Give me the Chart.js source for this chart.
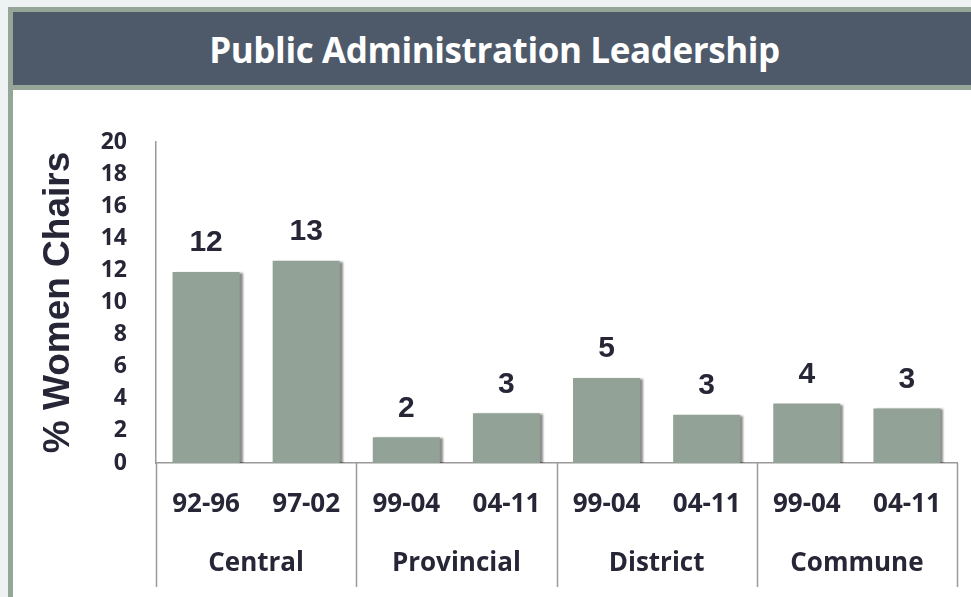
<!DOCTYPE html>
<html>
<head>
<meta charset="utf-8">
<title>Public Administration Leadership</title>
<script src="https://cdn.jsdelivr.net/npm/chart.js@4.4.1/dist/chart.umd.min.js"></script>
<style>
    html, body {
        margin: 0;
        padding: 0;
        width: 971px;
        height: 597px;
        overflow: hidden;
        background: #eef2f2;
    }
    .frame {
        position: absolute;
        left: 8px;
        top: 7px;
        width: 963px;
        height: 590px;
        border-left: 5px solid #95a598;
        border-top: 5px solid #95a598;
        background: #ffffff;
    }
    .frame-title {
        height: 73px;
        line-height: 76px;
        background: #4e5a6a;
        border-bottom: 5px solid #95a598;
        color: #ffffff;
        font-family: "Open Sans", sans-serif;
        font-weight: 700;
        font-size: 35px;
        text-align: center;
        letter-spacing: -0.4px;
    }
    .chart-box {
        position: absolute;
        left: 0;
        top: 78px;
    }
</style>
</head>
<body>
<div class="frame">
    <div class="frame-title">Public Administration Leadership</div>
    <div class="chart-box"><canvas id="chart" width="958" height="507"></canvas></div>
</div>
<script>
(function () {
    'use strict';

    // values (bar heights); labels above bars are rounded
    var PERIODS = ['92-96', '97-02', '99-04', '04-11', '99-04', '04-11', '99-04', '04-11'];
    var GROUPS = ['Central', 'Provincial', 'District', 'Commune'];
    var WOMEN_CHAIRS = [11.9, 12.6, 1.6, 3.1, 5.3, 3.0, 3.7, 3.4];
    var Y_MIN = 0;
    var Y_MAX = 20;
    var Y_STEP = 2;

    var TEXT_DARK = '#262637';
    var AXIS_GREY = '#9a9a9a';

    var barShadow = {
        id: 'barShadow',
        beforeDatasetsDraw: function (chart) {
            var ctx = chart.ctx;
            ctx.save();
            ctx.shadowColor = 'rgba(0, 0, 0, 0.45)';
            ctx.shadowOffsetX = 3;
            ctx.shadowOffsetY = 1;
            ctx.shadowBlur = 2;
        },
        afterDatasetsDraw: function (chart) {
            chart.ctx.restore();
        }
    };

    var valueLabels = {
        id: 'valueLabels',
        afterDatasetsDraw: function (chart) {
            var ctx = chart.ctx;
            var meta = chart.getDatasetMeta(0);
            ctx.save();
            ctx.fillStyle = TEXT_DARK;
            ctx.font = 'bold 30px "Liberation Sans", Arial, sans-serif';
            ctx.textAlign = 'center';
            ctx.textBaseline = 'middle';
            for (var i = 0; i < meta.data.length; i++) {
                var bar = meta.data[i];
                ctx.fillText(String(Math.round(WOMEN_CHAIRS[i])), bar.x, bar.y - 29);
            }
            ctx.restore();
        }
    };

    // vertical dividers between the groups, running under both label rows
    var groupDividers = {
        id: 'groupDividers',
        afterDraw: function (chart) {
            var ctx = chart.ctx;
            var g = chart.scales.x2;
            var top = chart.chartArea.bottom;
            var bottom = g.bottom - 10;
            ctx.save();
            ctx.strokeStyle = AXIS_GREY;
            ctx.lineWidth = 1.5;
            for (var i = 0; i <= GROUPS.length; i++) {
                var x = Math.round(g.getPixelForValue(i - 0.5)) + 0.5;
                ctx.beginPath();
                ctx.moveTo(x, top);
                ctx.lineTo(x, bottom);
                ctx.stroke();
            }
            ctx.restore();
        }
    };

    var canvas = document.getElementById('chart');

    new Chart(canvas, {
        type: 'bar',
        data: {
            labels: PERIODS,
            datasets: [{
                label: '% Women Chairs',
                data: WOMEN_CHAIRS,
                backgroundColor: '#93a297',
                borderWidth: 0,
                barPercentage: 0.67,
                categoryPercentage: 1
            }]
        },
        options: {
            responsive: false,
            animation: false,
            layout: {
                padding: { top: 52, right: 14, bottom: 0, left: 0 }
            },
            plugins: {
                legend: { display: false },
                tooltip: { enabled: false }
            },
            scales: {
                x: {
                    type: 'category',
                    position: 'bottom',
                    grid: { display: false, drawTicks: false },
                    border: { display: true, color: AXIS_GREY, width: 1.5 },
                    ticks: {
                        color: TEXT_DARK,
                        padding: 29,
                        autoSkip: false,
                        maxRotation: 0,
                        font: { family: '"Open Sans", sans-serif', weight: 'bold', size: 26, lineHeight: 1 }
                    },
                    afterFit: function (scale) {
                        scale.height = 58;
                    }
                },
                x2: {
                    type: 'category',
                    position: 'bottom',
                    labels: GROUPS,
                    offset: true,
                    grid: { display: false, drawTicks: false },
                    border: { display: false },
                    ticks: {
                        color: TEXT_DARK,
                        padding: 30,
                        autoSkip: false,
                        maxRotation: 0,
                        font: { family: '"Open Sans", sans-serif', weight: 'bold', size: 26, lineHeight: 1 }
                    },
                    afterFit: function (scale) {
                        scale.height = 76;
                    }
                },
                y: {
                    min: Y_MIN,
                    max: Y_MAX,
                    grid: { display: false, drawTicks: false },
                    border: { display: true, color: AXIS_GREY, width: 1.5 },
                    ticks: {
                        stepSize: Y_STEP,
                        autoSkip: false,
                        color: TEXT_DARK,
                        padding: 29,
                        font: { family: '"Open Sans", sans-serif', weight: 'bold', size: 23, lineHeight: 1 }
                    },
                    title: {
                        display: true,
                        text: '% Women Chairs',
                        color: TEXT_DARK,
                        padding: { top: 27, bottom: 0 },
                        font: { family: '"Liberation Sans", Arial, sans-serif', weight: 'bold', size: 37, lineHeight: 1 }
                    },
                    afterFit: function (scale) {
                        scale.width = 143;
                    }
                }
            }
        },
        plugins: [barShadow, valueLabels, groupDividers]
    });
})();
</script>
</body>
</html>
